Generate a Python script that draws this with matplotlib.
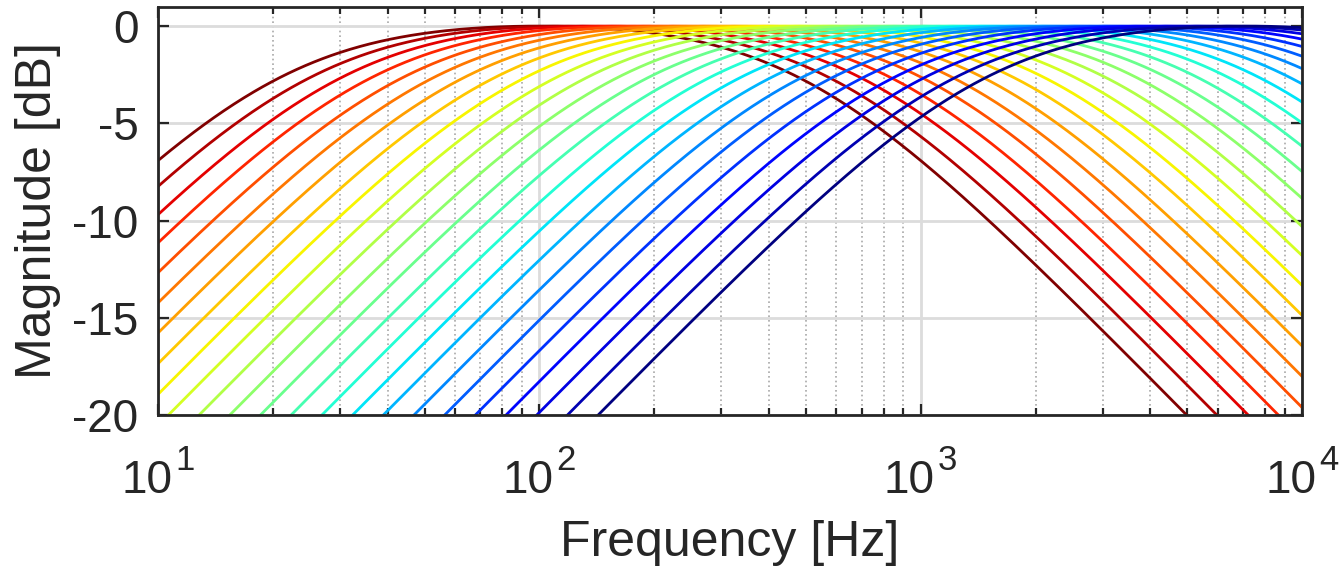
import numpy as np
import matplotlib
matplotlib.use("Agg")
import matplotlib.pyplot as plt
from matplotlib.ticker import LogLocator, NullFormatter
import matplotlib.transforms as mtransforms

plt.rcParams['font.family'] = ['Liberation Sans', 'DejaVu Sans']

# centre frequencies of the 24 band-pass filters [Hz]
center_freqs = [100, 120, 145, 174, 210, 253, 304, 366, 440, 530, 638, 768,
                924, 1112, 1339, 1612, 1940, 2335, 2810, 3382, 4071, 4900, 5897, 7098]
q_factor = 0.2

y_ticks = [-20, -15, -10, -5, 0]
x_ticks = [10, 100, 1000, 10000]
x_exponents = ['1', '2', '3', '4']

freq = np.logspace(1, 4, 800)
txt = '#262626'
DPI = 100

fig = plt.figure(figsize=(13.39, 5.69), dpi=DPI)
ax = fig.add_axes([0.118, 0.2707, 0.8545, 0.7170])

cmap = plt.get_cmap('jet')
n = len(center_freqs)
for i, fc in enumerate(center_freqs):
    # 2nd-order band-pass magnitude
    u = freq / fc
    mag = 1.0 / np.sqrt(1.0 + q_factor**2 * (u - 1.0 / u)**2)
    ax.plot(freq, 20 * np.log10(mag), color=cmap(1.0 - i / (n - 1)), lw=2.0)

ax.set_xscale('log')
ax.set_xlim(10, 10000)
ax.set_ylim(-20, 0.98)
ax.set_yticks(y_ticks)
ax.set_yticklabels([str(t) for t in y_ticks])
ax.set_xticks(x_ticks)
ax.set_xticklabels([])
ax.xaxis.set_minor_locator(LogLocator(base=10, subs=np.arange(2, 10)))
ax.xaxis.set_minor_formatter(NullFormatter())

ax.grid(True, which='major', color='#dcdcdc', lw=2.0, ls='-')
ax.grid(True, which='minor', axis='x', color='#a8a8a8', lw=1.2, ls=(0, (1, 1.8)))
ax.set_axisbelow(True)

for s in ax.spines.values():
    s.set_linewidth(2.0)
    s.set_color(txt)
ax.tick_params(which='both', direction='in', top=True, right=True,
               color=txt, width=1.6)
ax.tick_params(which='major', length=8, labelsize=33, labelcolor=txt)
ax.tick_params(which='minor', length=5)
ax.tick_params(axis='y', pad=14)

# x tick labels: base "10" with a raised exponent (offsets in pixels)
base = mtransforms.blended_transform_factory(ax.transData, ax.transAxes)
def px_offset(dx, dy):
    return base + mtransforms.ScaledTranslation(dx / DPI, dy / DPI, fig.dpi_scale_trans)

for xt, ex in zip(x_ticks, x_exponents):
    ax.text(xt, 0, '10', transform=px_offset(14, -78), ha='right', va='baseline',
            fontsize=33, color=txt, clip_on=False)
    ax.text(xt, 0, ex, transform=px_offset(17, -55), ha='left', va='baseline',
            fontsize=25, color=txt, clip_on=False)

ax.text(0.5, 0, 'Frequency [Hz]', transform=ax.transAxes + mtransforms.ScaledTranslation(
    0, -141 / DPI, fig.dpi_scale_trans), ha='center', va='baseline',
    fontsize=36, color=txt, clip_on=False)
ax.set_ylabel('Magnitude [dB]', fontsize=36, color=txt, labelpad=8)

fig.savefig('out.png', dpi=DPI)
